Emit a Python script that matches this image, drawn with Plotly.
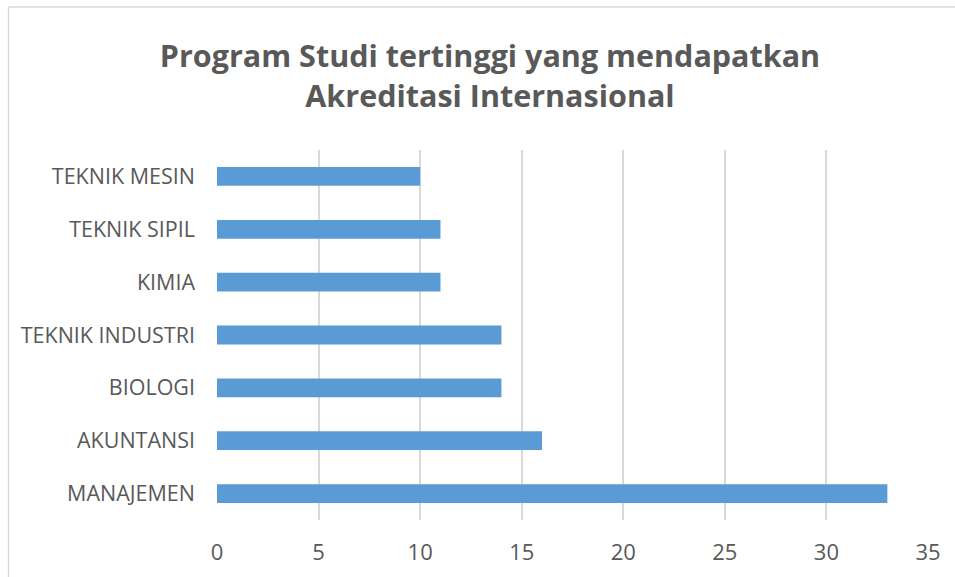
import plotly.graph_objects as go

categories = ["MANAJEMEN", "AKUNTANSI", "BIOLOGI", "TEKNIK INDUSTRI", "KIMIA", "TEKNIK SIPIL", "TEKNIK MESIN"]
values = [33, 16, 14, 14, 11, 11, 10]
x_ticks = [0, 5, 10, 15, 20, 25, 30, 35]

W, H = 955, 577
L, R, T, B = 217, 27, 150, 57
pw, ph = W - L - R, H - T - B

def px(x):
    return (x - L) / pw

def py(y):
    return (H - B - y) / ph

fig = go.Figure(go.Bar(
    x=values, y=categories, orientation="h",
    marker=dict(color="#5B9BD5", line=dict(width=0)),
))

fig.update_layout(
    width=W, height=H,
    margin=dict(l=L, r=R, t=T, b=B),
    paper_bgcolor="white", plot_bgcolor="white",
    bargap=0.645,
    showlegend=False,
    font=dict(family="Open Sans", color="#595959"),
    title=dict(
        text="Program Studi tertinggi yang mendapatkan<br>Akreditasi Internasional",
        x=490 / W, xanchor="center", y=1 - 67 / H, yanchor="middle",
        font=dict(size=30.5, family="Open Sans", color="#595959", weight="bold"),
    ),
    xaxis=dict(
        range=[0, 35], tickvals=x_ticks, showgrid=True, gridcolor="#D9D9D9", gridwidth=1.5,
        zeroline=False, showline=False, ticks="", tickfont=dict(size=22, color="#595959"),
        ticklabelstandoff=17,
    ),
    yaxis=dict(
        categoryorder="array", categoryarray=categories, range=[-0.5, 6.5],
        showgrid=False, zeroline=False, showline=False, ticks="",
        tickfont=dict(size=21.5, color="#595959"), ticklabelstandoff=21,
    ),
    shapes=[
        dict(type="line", xref="paper", yref="paper", x0=px(8.5), x1=px(W + 10), y0=py(7), y1=py(7),
             line=dict(color="#D9D9D9", width=1.5)),
        dict(type="line", xref="paper", yref="paper", x0=px(8.5), x1=px(8.5), y0=py(7), y1=py(H + 10),
             line=dict(color="#D9D9D9", width=1.5)),
    ],
)

fig.write_html(
    "out.html",
    config={"displayModeBar": False},
    post_script="document.body.style.margin='0';document.body.style.overflow='hidden';",
)
